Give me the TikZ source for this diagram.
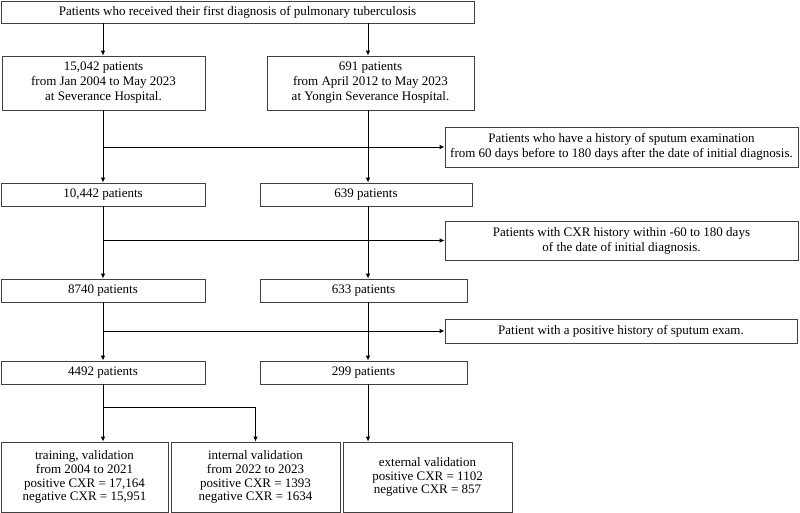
\documentclass[tikz,border=0pt]{standalone}
\usepackage{fontspec}
\setmainfont{Liberation Serif}
\usetikzlibrary{arrows.meta,calc}
\newcommand{\fs}{\fontsize{13}{15}\selectfont}
\newcommand{\fsb}{\fontsize{13}{13.8}\selectfont}
\begin{document}
\begin{tikzpicture}[x=1pt,y=-1pt,
  box/.style={draw=black!75, line width=0.8pt, align=center, inner sep=0pt, font=\fs},
  bbox/.style={box, font=\fsb},
  arr/.style={-{Latex[length=5pt,width=4.5pt]}, line width=0.9pt, black}]
\useasboundingbox (0,0) rectangle (800,513);
\coordinate (L) at (103,0);
\coordinate (R) at (368,0);
\node[box, minimum width=473, minimum height=22] (top) at (237.5,12) {Patients who received their first diagnosis of pulmonary tuberculosis};
\node[box, minimum width=203, minimum height=54] (A1) at (103.5,83) {15,042 patients\\from Jan 2004 to May 2023\\at Severance Hospital.};
\node[box, minimum width=207, minimum height=54] (B1) at (370.5,83) {691 patients\\from April 2012 to May 2023\\at Yongin Severance Hospital.};
\node[box, minimum width=353, minimum height=40] (S1) at (621.5,147) {Patients who have a history of sputum examination\\from 60 days before to 180 days after the date of initial diagnosis.};
\node[box, minimum width=204, minimum height=23] (A2) at (103,194.5) {10,442 patients};
\node[box, minimum width=212, minimum height=23] (B2) at (366,194.5) {639 patients};
\node[box, minimum width=353, minimum height=39] (S2) at (621.5,240.5) {Patients with CXR history within -60 to 180 days\\of the date of initial diagnosis.};
\node[box, minimum width=204, minimum height=23] (A3) at (103,290.5) {8740 patients};
\node[box, minimum width=207, minimum height=23] (B3) at (363.5,290.5) {633 patients};
\node[box, minimum width=352, minimum height=24] (S3) at (621,331) {Patient with a positive history of sputum exam.};
\node[box, minimum width=204, minimum height=23] (A4) at (103,372.5) {4492 patients};
\node[box, minimum width=207, minimum height=23] (B4) at (363.5,372.5) {299 patients};
\node[bbox, minimum width=167, minimum height=70] (C1) at (84.5,477) {training, validation\\from 2004 to 2021\\positive CXR = 17,164\\negative CXR = 15,951};
\node[bbox, minimum width=169, minimum height=70] (C2) at (255.5,477) {internal validation\\from 2022 to 2023\\positive CXR = 1393\\negative CXR = 1634};
\node[bbox, minimum width=169, minimum height=70] (C3) at (427.5,477) {external validation\\positive CXR = 1102\\negative CXR = 857};
\coordinate (J) at (103,407);
% left column
\draw[arr] (top.south -| L) -- (A1.north -| L);
\draw[arr] (A1.south -| L) -- (A2.north -| L);
\draw[arr] (S1.west -| L) -- (S1.west);
\draw[arr] (A2.south -| L) -- (A3.north -| L);
\draw[arr] (S2.west -| L) -- (S2.west);
\draw[arr] (A3.south -| L) -- (A4.north -| L);
\draw[arr] (S3.west -| L) -- (S3.west);
\draw[arr] (A4.south -| L) -- (C1.north -| L);
\draw[arr] (J) -| (C2.north);
% right column
\draw[arr] (top.south -| R) -- (B1.north -| R);
\draw[arr] (B1.south -| R) -- (B2.north -| R);
\draw[arr] (B2.south -| R) -- (B3.north -| R);
\draw[arr] (B3.south -| R) -- (B4.north -| R);
\draw[arr] (B4.south -| R) -- (C3.north -| R);
\end{tikzpicture}
\end{document}
